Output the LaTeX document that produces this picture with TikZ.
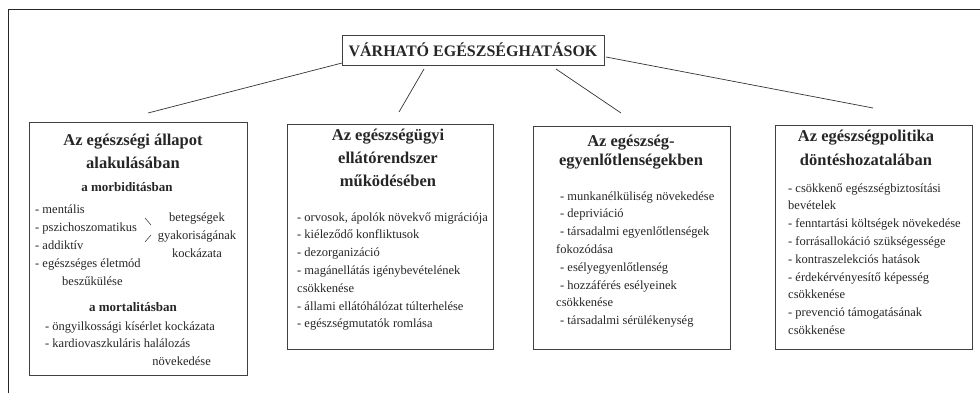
\documentclass[tikz,border=0pt]{standalone}
\usepackage{fontspec}
\setmainfont{Liberation Serif}
\usepackage{tikz}
\usetikzlibrary{calc}

\begin{document}
\begin{tikzpicture}[x=1pt,y=-1pt,
    box/.style={draw=black!75,line width=0.8pt},
    head/.style={font=\fontsize{16.5}{23}\selectfont\bfseries,align=center,inner sep=0pt,anchor=base,text=black!85},
    sub/.style={font=\fontsize{13}{17}\selectfont\bfseries,inner sep=0pt,anchor=base,text=black!85},
    items/.style={font=\fontsize{12.5}{17.8}\selectfont,align=left,inner sep=0pt,anchor=base west,text=black!85},
    link/.style={black!80,line width=0.7pt}]
  \useasboundingbox (0,0) rectangle (980,393);

  % Frame
  \draw[line width=1.3pt,black!85] (8.5,393) -- (8.5,9.5) -- (980,9.5);

  % Title
  \node[draw=black!75,line width=0.8pt,minimum width=262pt,minimum height=30pt,inner sep=0pt,
        font=\fontsize{16}{18}\selectfont\bfseries,text=black!85] (title) at (473,50) {VÁRHATÓ EGÉSZSÉGHATÁSOK};

  % Boxes
  \draw[box] (29,122) rectangle (247,375);
  \draw[box] (287,124) rectangle (493,349);
  \draw[box] (533,126) rectangle (730,349);
  \draw[box] (775,125) rectangle (972,349);

  % Leader lines to the boxes
  \coordinate (t1) at (342,63);  \coordinate (b1) at (148,113);
  \coordinate (t2) at (424,69);  \coordinate (b2) at (399,112);
  \coordinate (t3) at (556,69);  \coordinate (b3) at (621,113);
  \coordinate (t4) at (606,57);  \coordinate (b4) at (873,108);
  \draw[link] (t1) -- (b1);
  \draw[link] (t2) -- (b2);
  \draw[link] (t3) -- (b3);
  \draw[link] (t4) -- (b4);

  % Health status (anchors sit on the last baseline)
  \node[head] (h1) at (133,168) {Az egészségi állapot\\alakulásában};
  \node[sub] (morb) at (127,191) {a morbiditásban};
  \node[items] (m1) at (35,285) {- mentális\\- pszichoszomatikus\\- addiktív\\- egészséges életmód\\\hspace*{27pt}beszűkülése};
  \draw[black!80,line width=0.5pt] (145,218) -- (151,225);
  \draw[black!80,line width=0.5pt] (151,235) -- (145,242);
  \node[items,align=center,anchor=base] (risk) at (197,257) {betegségek\\gyakoriságának\\kockázata};
  \node[sub] (mort) at (133,311) {a mortalitásban};
  \node[items] (m2) at (45,347.8) {- öngyilkossági kísérlet kockázata\\- kardiovaszkuláris halálozás};
  \node[items,anchor=base east] (m3) at (211,365) {növekedése};

  % Health care system
  \node[head] (h2) at (388,186) {Az egészségügyi\\ellátórendszer\\működésében};
  \node[items] (c1) at (297,327.8) {- orvosok, ápolók növekvő migrációja\\- kiélező­dő konfliktusok\\- dezorganizáció\\- magánellátás igénybevételének\\csökkenése\\- állami ellátóhálózat túlterhelése\\- egészségmutatók romlása};

  % Inequalities
  \node[head,font=\fontsize{16.5}{19}\selectfont\bfseries] (h3) at (631,165) {Az egészség-\\egyenlőtlenségekben};
  \node[items] (e1) at (560,324.6) {- munkanélküliség növekedése\\- depriviáció\\- társadalmi egyenlőtlenségek\\\hspace*{-4pt}fokozódása\\- esélyegyenlőtlenség\\- hozzáférés esélyeinek\\\hspace*{-4pt}csökkenése\\- társadalmi sérülékenység};

  % Health policy
  \node[head,font=\fontsize{16.5}{24}\selectfont\bfseries] (h4) at (866,165) {Az egészségpolitika\\döntéshozatalában};
  \node[items] (p1) at (788,334.4) {- csökkenő egészségbiztosítási\\bevételek\\- fenntartási költségek növekedése\\- forrásallokáció szükségessége\\- kontraszelekciós hatások\\- érdekérvényesítő képesség\\csökkenése\\- prevenció támogatásának\\csökkenése};
\end{tikzpicture}
\end{document}
